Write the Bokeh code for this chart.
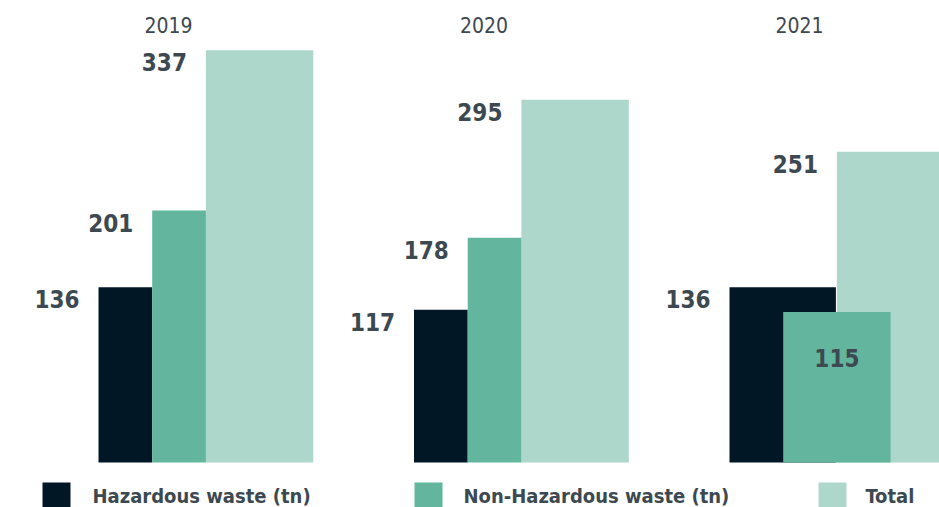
from bokeh.plotting import figure
from bokeh.models import Range1d, ColumnDataSource
from bokeh.core.properties import value
from bokeh.embed import file_html
from bokeh.resources import INLINE

# ---------------- data ----------------
years = ["2019", "2020", "2021"]
hazardous = [136, 117, 136]
non_hazardous = [201, 178, 115]
total = [337, 295, 251]
series_names = ["Hazardous waste (tn)", "Non-Hazardous waste (tn)", "Total"]

# ---------------- style / layout ----------------
colors = ["#021726", "#63B59E", "#AED7CB"]
text_color = "#3D4950"
FONT = "DejaVu Sans Condensed"
W, H = 939, 507
A = 1.179          # px per tonne
LIFT = 14.9        # px between baseline and value zero
BASE_PX = 462      # pixel row of the bar baseline
GROUP0, GROUP_STEP, UNIT = 98, 315.5, 53.7
TXT_SHIFT = 8      # compensation for text baseline rendering


def v_at(py):
    """data value located at pixel row py"""
    return (BASE_PX - LIFT - py) / A


def px(d):
    """pixel distance -> data distance"""
    return d / A


p = figure(width=W, height=H, x_range=Range1d(0, W), y_range=Range1d(v_at(H), v_at(0)),
           output_backend="svg", toolbar_location=None,
           x_axis_location=None, y_axis_location=None, min_border=0)
p.grid.visible = False
p.outline_line_color = None
p.background_fill_color = "white"
p.border_fill_color = "white"

baseline = v_at(BASE_PX)
series = [hazardous, non_hazardous, total]

quads = {k: {"left": [], "right": [], "top": [], "bottom": []} for k in range(3)}
lab = {"x": [], "y": [], "text": [], "align": []}

for gi, yr in enumerate(years):
    g = GROUP0 + gi * GROUP_STEP
    overlap = non_hazardous[gi] < hazardous[gi]
    spans = [(0, 2), (1, 3), (2, 4)] if overlap else [(0, 1), (1, 2), (2, 4)]
    for si in range(3):
        l, r = g + spans[si][0] * UNIT, g + spans[si][1] * UNIT
        if overlap and si == 0:
            r -= 1
        val = series[si][gi]
        quads[si]["left"].append(l)
        quads[si]["right"].append(r)
        quads[si]["top"].append(val)
        quads[si]["bottom"].append(baseline)
        if overlap and si == 1:
            lab["x"].append((l + r) / 2)
            lab["y"].append(val - px(54 - TXT_SHIFT))
            lab["align"].append("center")
        else:
            lab["x"].append(l - 19)
            lab["y"].append(val - px(20 - TXT_SHIFT))
            lab["align"].append("right")
        lab["text"].append(str(val))
    # year label
    p.text(x=[g + 70], y=[v_at(32 - TXT_SHIFT)], text=[yr], text_font=value(FONT),
           text_font_size="21px", text_color=text_color, text_align="center",
           text_baseline="alphabetic")

for si in (0, 2, 1):
    p.quad(source=ColumnDataSource(quads[si]), left="left", right="right", top="top",
           bottom="bottom", fill_color=colors[si], line_color=None)

p.text(source=ColumnDataSource(lab), x="x", y="y", text="text", text_align="align",
       text_baseline="alphabetic", text_font=value(FONT), text_font_size="24px",
       text_font_style="bold", text_color=text_color)

# legend
leg_sq_x = [42, 414, 818]
leg_tx_x = [92, 463, 865]
p.quad(left=leg_sq_x, right=[x + 28 for x in leg_sq_x], top=[v_at(482)] * 3,
       bottom=[v_at(H + 10)] * 3, fill_color=colors, line_color=None)
p.text(x=leg_tx_x, y=[v_at(503 - TXT_SHIFT)] * 3, text=series_names, text_font=value(FONT),
       text_font_size="20px", text_font_style="bold", text_color=text_color,
       text_align="left", text_baseline="alphabetic")

open("out.html", "w").write(file_html(p, INLINE))
